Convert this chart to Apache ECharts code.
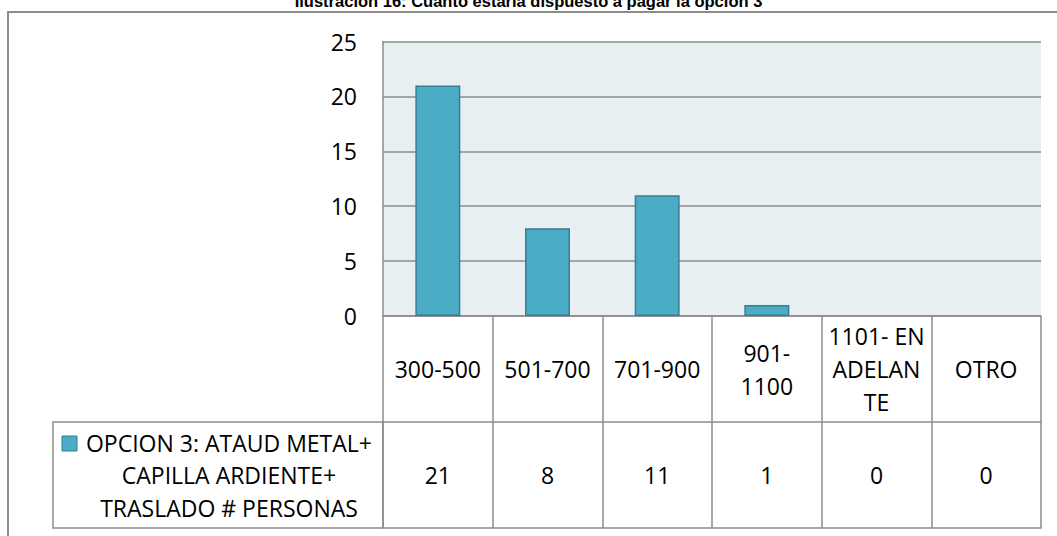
<!DOCTYPE html>
<html>
<head>
<meta charset="utf-8">
<script src="https://cdn.jsdelivr.net/npm/echarts@6/dist/echarts.min.js"></script>
<style>
html,body{margin:0;padding:0;background:#fff;}
#c{width:1057px;height:536px;}
</style>
</head>
<body>
<div id="c"></div>
<script>
const titleText = 'Ilustración 16: Cuánto estaría dispuesto a pagar la opción 3';
const categories = ['300-500', '501-700', '701-900', '901-\n1100', '1101- EN\nADELAN\nTE', 'OTRO'];
const values = [21, 8, 11, 1, 0, 0];
const seriesName = 'OPCION 3: ATAUD METAL+ CAPILLA ARDIENTE+ TRASLADO # PERSONAS';
const legendLines = ['OPCION 3: ATAUD METAL+', 'CAPILLA ARDIENTE+', 'TRASLADO # PERSONAS'];
const yTicks = [0, 5, 10, 15, 20, 25];

const FONT = '"Open Sans", "Noto Sans", sans-serif';
const FS = 23;
const LINE = '#8c8c8c';
const BAR = '#4BACC6';
const BAR_BORDER = '#357F93';

const gridLeft = 383, gridRight = 1041, gridTop = 41.5, gridBottom = 316;
const rowH = 106;

const chart = echarts.init(document.getElementById('c'), null, {renderer: 'svg'});

const baseX = {
  type: 'category',
  data: categories,
  position: 'bottom',
  boundaryGap: true,
  axisLine: {show: true, lineStyle: {color: LINE, width: 1.5}},
  axisTick: {show: true, length: rowH, interval: 0, lineStyle: {color: LINE, width: 1.5}},
  splitLine: {show: false}
};

chart.setOption({
  animation: false,
  title: {
    text: titleText,
    left: 'center',
    top: -8,
    padding: 0,
    textStyle: {fontFamily: 'Liberation Sans, Arial, sans-serif', fontWeight: 'bold', fontSize: 16.5, color: '#000'}
  },
  grid: {
    left: gridLeft, top: gridTop, width: gridRight - gridLeft, height: gridBottom - gridTop,
    show: true, backgroundColor: '#E8EFF3', borderWidth: 0
  },
  xAxis: [
    Object.assign({}, baseX, {
      axisLabel: {
        interval: 0, margin: rowH / 2, verticalAlign: 'middle', align: 'center',
        fontFamily: FONT, fontSize: FS, color: '#000', lineHeight: 33
      }
    }),
    Object.assign({}, baseX, {
      offset: rowH,
      axisLabel: {
        interval: 0, margin: rowH / 2, verticalAlign: 'middle', align: 'center',
        fontFamily: FONT, fontSize: FS, color: '#000',
        formatter: function (v, i) { return String(values[i]); }
      }
    }),
    Object.assign({}, baseX, {
      offset: rowH * 2,
      axisTick: {show: false},
      axisLabel: {show: false}
    })
  ],
  yAxis: {
    type: 'value',
    min: yTicks[0], max: yTicks[yTicks.length - 1], interval: 5,
    axisLine: {show: true, lineStyle: {color: LINE, width: 1.5}},
    axisTick: {show: false},
    axisLabel: {margin: 26, fontFamily: FONT, fontSize: FS, color: '#000'},
    splitLine: {show: true, lineStyle: {color: LINE, width: 1.5}}
  },
  series: [{
    name: seriesName,
    type: 'bar',
    xAxisIndex: 0,
    data: values.map(function (v) {
      return v === 0 ? {value: v, itemStyle: {borderWidth: 0, opacity: 0}} : v;
    }),
    barWidth: '41%',
    itemStyle: {color: BAR, borderColor: BAR_BORDER, borderWidth: 1.5}
  }],
  graphic: [
    {
      type: 'rect', silent: true, z: 0,
      shape: {x: 8, y: 12, width: 1200, height: 700},
      style: {fill: 'none', stroke: LINE, lineWidth: 2}
    },
    {
      type: 'rect', silent: true,
      shape: {x: 53, y: gridBottom + rowH, width: gridLeft - 53, height: rowH},
      style: {fill: 'none', stroke: LINE, lineWidth: 1.5}
    },
    {
      type: 'rect', silent: true,
      shape: {x: 62, y: 436, width: 15, height: 15},
      style: {fill: BAR, stroke: BAR_BORDER, lineWidth: 1}
    },
    {
      type: 'text', silent: true,
      style: {
        text: legendLines.join('\n'),
        x: 229, y: gridBottom + rowH * 1.5,
        textAlign: 'center', textVerticalAlign: 'middle',
        fontFamily: FONT, fontSize: FS, lineHeight: 32.5, fill: '#000'
      }
    }
  ]
});
</script>
</body>
</html>
